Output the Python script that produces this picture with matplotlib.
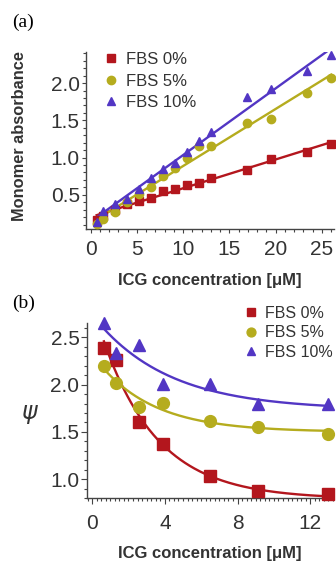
import numpy as np
import matplotlib
matplotlib.use("Agg")
import matplotlib.pyplot as plt
from matplotlib.ticker import MultipleLocator

plt.rcParams['font.family'] = ['Liberation Sans', 'DejaVu Sans']

# panel (a): monomer absorbance vs ICG concentration
conc_a = [0.65, 1.3, 2.6, 3.9, 5.2, 6.5, 7.8, 9.1, 10.4, 11.7, 13, 16.9, 19.5, 23.4, 26]
abs_fbs0 = [0.16, 0.22, 0.29, 0.37, 0.42, 0.45, 0.55, 0.58, 0.63, 0.66, 0.72, 0.83, 0.98, 1.08, 1.18]
abs_fbs5 = [0.11, 0.17, 0.27, 0.40, 0.51, 0.61, 0.75, 0.86, 0.99, 1.15, 1.16, 1.47, 1.52, 1.87, 2.07]
abs_fbs10 = [0.13, 0.28, 0.38, 0.44, 0.58, 0.72, 0.84, 0.93, 1.08, 1.22, 1.34, 1.82, 1.92, 2.16, 2.38]

# panel (b): psi vs ICG concentration
conc_b = [0.65, 1.3, 2.6, 3.9, 6.5, 9.1, 13]
psi_fbs0 = [2.39, 2.26, 1.60, 1.37, 1.03, 0.87, 0.84]
psi_fbs5 = [2.20, 2.02, 1.76, 1.81, 1.62, 1.55, 1.48]
psi_fbs10 = [2.65, 2.33, 2.42, 2.01, 2.01, 1.79, 1.79]

labels = ['FBS 0%', 'FBS 5%', 'FBS 10%']
colors = ['#b3161d', '#b5ac1e', '#5236c4']
markers = ['s', 'o', '^']


def exp_fit(x, y):
    # y = c + a*exp(-k x), grid search on k, linear least squares for a, c
    x = np.asarray(x)
    y = np.asarray(y)
    best = None
    for k in np.linspace(0.02, 2.0, 800):
        A = np.column_stack([np.ones_like(x), np.exp(-k * x)])
        coef, _, _, _ = np.linalg.lstsq(A, y, rcond=None)
        sse = np.sum((A @ coef - y) ** 2)
        if best is None or sse < best[0]:
            best = (sse, coef[0], coef[1], k)
    return best[1:]


def style_axes(ax, major_len, xpad):
    for s in ['top', 'right']:
        ax.spines[s].set_visible(False)
    for s in ['left', 'bottom']:
        ax.spines[s].set_color('#444444')
        ax.spines[s].set_linewidth(1.0)
    ax.tick_params(which='both', direction='out', colors='#444444',
                   labelcolor='#333333', labelsize=15, width=0.8)
    ax.tick_params(which='major', length=major_len)
    ax.tick_params(which='minor', length=2.2)
    ax.tick_params(axis='y', which='major', pad=1.5)
    ax.tick_params(axis='x', which='major', pad=xpad)


fig = plt.figure(figsize=(3.36, 5.64), dpi=100)

# ---- (a)
ax1 = fig.add_axes([0.256, 0.594, 0.738, 0.314])
ys_a = [abs_fbs0, abs_fbs5, abs_fbs10]
for y, c, m, lab in zip(ys_a, colors, markers, labels):
    p = np.polyfit(conc_a, y, 1)
    xx = np.array([conc_a[0], conc_a[-1]])
    ax1.plot(xx, np.polyval(p, xx), color=c, lw=1.7, zorder=2)
    ax1.plot(conc_a, y, ls='none', marker=m, ms=6, color=c, label=lab,
             clip_on=False, zorder=3)
ax1.set_xlim(-0.5, 26.3)
ax1.set_ylim(0.04, 2.42)
ax1.xaxis.set_major_locator(MultipleLocator(5))
ax1.xaxis.set_minor_locator(MultipleLocator(1))
ax1.yaxis.set_major_locator(MultipleLocator(0.5))
ax1.yaxis.set_minor_locator(MultipleLocator(0.1))
style_axes(ax1, 3, 5)
ax1.set_xlabel('ICG concentration [\u03bcM]', fontsize=12, fontweight='bold',
               color='#333333', labelpad=10)
ax1.set_ylabel('Monomer absorbance', fontsize=11.8, fontweight='bold',
               color='#333333')
ax1.yaxis.set_label_coords(0.080, 0.758, transform=fig.transFigure)
ax1.legend(loc='upper left', bbox_to_anchor=(0.312, 0.908),
           bbox_transform=fig.transFigure, frameon=False, fontsize=12,
           handlelength=0.8, handletextpad=0.5, labelspacing=0.4,
           borderpad=0, borderaxespad=0, labelcolor='#333333')
fig.text(0.036, 0.960, '(a)', family=['Liberation Serif', 'DejaVu Serif'],
         fontsize=14, va='center', ha='left')

# ---- (b)
ax2 = fig.add_axes([0.259, 0.117, 0.732, 0.310])
ys_b = [psi_fbs0, psi_fbs5, psi_fbs10]
for y, c, m, lab in zip(ys_b, colors, markers, labels):
    cc, aa, kk = exp_fit(conc_b, y)
    xx = np.linspace(conc_b[0], conc_b[-1], 200)
    ax2.plot(xx, cc + aa * np.exp(-kk * xx), color=c, lw=1.7, zorder=2)
    ax2.plot(conc_b, y, ls='none', marker=m, ms=8.5, color=c, label=lab,
             clip_on=False, zorder=3)
ax2.set_xlim(-0.28, 13.25)
ax2.set_ylim(0.80, 2.65)
ax2.xaxis.set_major_locator(MultipleLocator(4))
ax2.xaxis.set_minor_locator(MultipleLocator(0.25))
ax2.yaxis.set_major_locator(MultipleLocator(0.5))
ax2.yaxis.set_minor_locator(MultipleLocator(0.1))
style_axes(ax2, 4, 7.5)
ax2.set_xlabel('ICG concentration [\u03bcM]', fontsize=12, fontweight='bold',
               color='#333333', labelpad=9.5)
ax2.set_ylabel('$\\psi$', fontsize=17, rotation=0, va='center', ha='center',
               color='#333333')
ax2.yaxis.set_label_coords(0.089, 0.265, transform=fig.transFigure)
ax2.legend(loc='upper left', bbox_to_anchor=(0.727, 0.458),
           bbox_transform=fig.transFigure, frameon=False, fontsize=11.5,
           handlelength=0.8, handletextpad=0.5, labelspacing=0.28,
           borderpad=0, borderaxespad=0, labelcolor='#333333',
           markerscale=0.75)
fig.text(0.036, 0.463, '(b)', family=['Liberation Serif', 'DejaVu Serif'],
         fontsize=14, va='center', ha='left')

fig.savefig('out.png', dpi=100)
